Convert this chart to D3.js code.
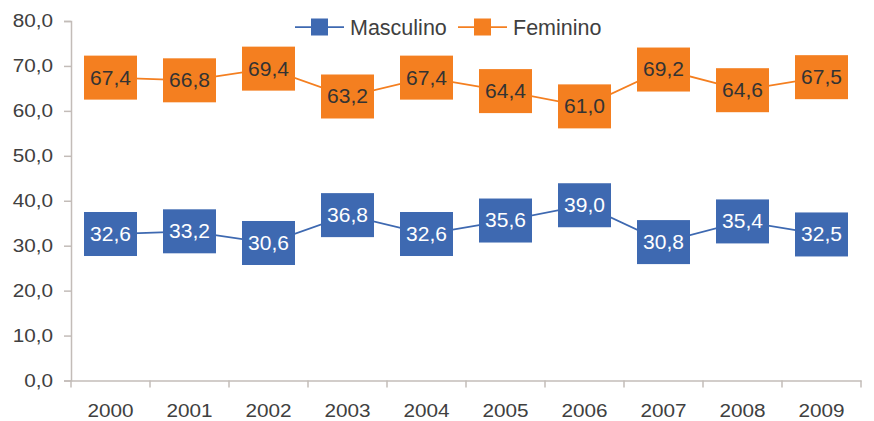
<!DOCTYPE html>
<html>
<head>
<meta charset="utf-8">
<script src="https://cdn.jsdelivr.net/npm/d3@7"></script>
<style>
  body { margin: 0; background: #fff; }
  text { font-family: "Liberation Sans", Arial, sans-serif; }
</style>
</head>
<body>
<div id="chart"></div>
<script>
// Data
const years = ["2000", "2001", "2002", "2003", "2004", "2005", "2006", "2007", "2008", "2009"];
const masculino = [32.6, 33.2, 30.6, 36.8, 32.6, 35.6, 39.0, 30.8, 35.4, 32.5];
const feminino = [67.4, 66.8, 69.4, 63.2, 67.4, 64.4, 61.0, 69.2, 64.6, 67.5];
const yTicks = [0, 10, 20, 30, 40, 50, 60, 70, 80];

const width = 874;
const height = 421;
const margin = { top: 21, right: 13, bottom: 40.5, left: 71 };

const blue = "#3E69B1";
const orange = "#F47F20";
const axisColor = "#C3BCB8";
const stretch = 1.12;
const fmt = v => d3.format(".1f")(v).replace(".", ",");

const svg = d3.select("#chart").append("svg")
    .attr("width", width)
    .attr("height", height);

const x = d3.scaleBand()
    .domain(years)
    .range([margin.left, width - margin.right]);

const y = d3.scaleLinear()
    .domain([0, 80])
    .range([height - margin.bottom, margin.top]);

// Y axis
const yAxis = svg.append("g")
    .attr("transform", `translate(${margin.left},0)`)
    .call(d3.axisLeft(y).tickValues(yTicks).tickFormat(fmt).tickSize(7).tickPadding(10));
yAxis.select(".domain").attr("stroke", axisColor).attr("stroke-width", 1.5);
yAxis.selectAll(".tick line").attr("stroke", axisColor).attr("stroke-width", 1.5);
yAxis.selectAll(".tick text")
    .attr("fill", "#404040")
    .attr("font-size", 18.5)
    .attr("x", 0)
    .attr("transform", `translate(-18,0) scale(${stretch},1)`)
    .style("font-family", "Liberation Sans, Arial, sans-serif");

// X axis
const xAxis = svg.append("g")
    .attr("transform", `translate(0,${height - margin.bottom})`)
    .call(d3.axisBottom(x).tickSize(0).tickPadding(23));
xAxis.select(".domain").attr("stroke", axisColor).attr("stroke-width", 1.5);
xAxis.selectAll(".tick text")
    .attr("fill", "#404040")
    .attr("font-size", 18.5)
    .attr("transform", `scale(${stretch},1)`)
    .style("font-family", "Liberation Sans, Arial, sans-serif");
// boundary ticks between categories
xAxis.append("g")
    .selectAll("line")
    .data(years.concat(["end"]))
    .join("line")
        .attr("x1", (d, i) => margin.left + i * x.step())
        .attr("x2", (d, i) => margin.left + i * x.step())
        .attr("y1", 0)
        .attr("y2", 7)
        .attr("stroke", axisColor)
        .attr("stroke-width", 1.5);

const cx = d => x(d) + x.bandwidth() / 2;

function drawSeries(values, color, textColor) {
    const pts = years.map((yr, i) => ({ yr, v: values[i] }));
    svg.append("path")
        .datum(pts)
        .attr("fill", "none")
        .attr("stroke", color)
        .attr("stroke-width", 1.75)
        .attr("d", d3.line().x(d => cx(d.yr)).y(d => y(d.v)));

    const g = svg.append("g")
        .selectAll("g")
        .data(pts)
        .join("g")
            .attr("transform", d => `translate(${cx(d.yr)},${y(d.v)})`);
    g.append("rect")
        .attr("x", -26.5)
        .attr("y", -22)
        .attr("width", 53)
        .attr("height", 44)
        .attr("fill", color);
    g.append("text")
        .attr("text-anchor", "middle")
        .attr("dy", "0.33em")
        .attr("fill", textColor)
        .attr("font-size", 21)
        .text(d => fmt(d.v));
}

drawSeries(masculino, blue, "#ffffff");
drawSeries(feminino, orange, "#333333");

// Legend
const legend = [
    { name: "Masculino", color: blue, x: 295 },
    { name: "Feminino", color: orange, x: 458 }
];
const lg = svg.append("g")
    .selectAll("g")
    .data(legend)
    .join("g")
        .attr("transform", d => `translate(${d.x},27)`);
lg.append("line")
    .attr("x1", 0).attr("x2", 49)
    .attr("stroke", d => d.color)
    .attr("stroke-width", 1.75);
lg.append("rect")
    .attr("x", 16).attr("y", -8.5)
    .attr("width", 17).attr("height", 17)
    .attr("fill", d => d.color);
lg.append("text")
    .attr("x", 55)
    .attr("dy", "0.36em")
    .attr("fill", "#404040")
    .attr("font-size", 21.5)
    .text(d => d.name);
</script>
</body>
</html>
